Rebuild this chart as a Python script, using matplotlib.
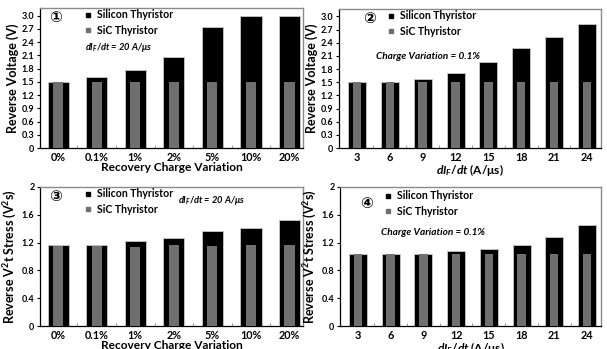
import matplotlib
matplotlib.use("Agg")
import matplotlib.pyplot as plt
from matplotlib.lines import Line2D

plt.rcParams['font.family'] = ['Lato', 'DejaVu Sans']
plt.rcParams['font.weight'] = 'bold'
plt.rcParams['mathtext.fontset'] = 'custom'
plt.rcParams['mathtext.it'] = 'Lato:italic:bold'
plt.rcParams['mathtext.rm'] = 'Lato:bold'
plt.rcParams['mathtext.bf'] = 'Lato:bold'

# ---------------- data ----------------
charge_labels = ['0%', '0.1%', '1%', '2%', '5%', '10%', '20%']
didt_labels = ['3', '6', '9', '12', '15', '18', '21', '24']

p1_si = [1.50, 1.60, 1.76, 2.05, 2.75, 3.00, 3.00]
p1_sic = [1.50, 1.50, 1.50, 1.50, 1.50, 1.50, 1.50]

p2_si = [1.50, 1.51, 1.57, 1.72, 1.97, 2.27, 2.54, 2.82]
p2_sic = [1.50, 1.50, 1.50, 1.50, 1.50, 1.50, 1.50, 1.50]

p3_si = [1.16, 1.17, 1.22, 1.27, 1.36, 1.41, 1.52]
p3_sic = [1.15, 1.15, 1.14, 1.16, 1.15, 1.16, 1.16]

p4_si = [1.04, 1.04, 1.04, 1.08, 1.11, 1.16, 1.28, 1.45]
p4_sic = [1.04, 1.04, 1.04, 1.04, 1.04, 1.04, 1.04, 1.04]

v_ticks = [0, 0.3, 0.6, 0.9, 1.2, 1.5, 1.8, 2.1, 2.4, 2.7, 3.0]
v_ticklabels = ['0', '0.3', '0.6', '0.9', '1.2', '1.5', '1.8', '2.1', '2.4', '2.7', '3.0']
s_ticks = [0, 0.4, 0.8, 1.2, 1.6, 2.0]
s_ticklabels = ['0', '0.4', '0.8', '1.2', '1.6', '2']

W, H = 607, 349
fig = plt.figure(figsize=(W / 100, H / 100), dpi=100)

def mk_ax(l, r, t, b):
    return fig.add_axes([l / W, 1 - b / H, (r - l) / W, (b - t) / H])

SI_COLOR = '#000000'
SIC_COLOR = '#6f6f6f'

def panel(ax, labels, si, sic, ylim, yticks, yticklabels, ylabel, xlabel,
          num, legpos, note, notepos, notesize, xlim):
    x = list(range(len(labels)))
    ax.bar(x, si, width=0.55, color=SI_COLOR, edgecolor='#c8c8c8', linewidth=0.6, zorder=2)
    ax.bar(x, sic, width=0.26, color=SIC_COLOR, edgecolor='none', zorder=3)
    ax.set_xlim(*xlim)
    ax.set_ylim(*ylim)
    ax.set_yticks(yticks)
    ax.set_yticklabels(yticklabels, fontsize=6.5, fontweight='bold')
    ax.set_xticks(x)
    ax.set_xticklabels(labels, fontsize=7.8, fontweight='bold')
    ax.set_xticks([i + 0.5 for i in x[:-1]], minor=True)
    ax.tick_params(axis='x', which='major', length=0, pad=3)
    ax.tick_params(axis='x', which='minor', direction='in', length=2, color='#888888')
    ax.tick_params(axis='y', length=2.5, width=0.8, pad=1.5)
    for s in ['top', 'right']:
        ax.spines[s].set_color('#8a8a8a')
        ax.spines[s].set_linewidth(1.0)
    for s in ['left', 'bottom']:
        ax.spines[s].set_color('black')
        ax.spines[s].set_linewidth(0.9)
    ax.set_ylabel(ylabel, fontsize=9.0, fontweight='bold', labelpad=2)
    ax.set_xlabel(xlabel, fontsize=8.6, fontweight='bold', labelpad=-1.0)
    ax.text(num[0], num[1], num[2], transform=ax.transAxes, fontsize=11,
            family=['DejaVu Sans'], ha='center', va='center')
    handles = [Line2D([], [], marker='s', color=SI_COLOR, linestyle='none', markersize=3.5),
               Line2D([], [], marker='s', color=SIC_COLOR, linestyle='none', markersize=3.5)]
    ax.legend(handles, ['Silicon Thyristor', 'SiC Thyristor'], loc='upper left',
              bbox_to_anchor=legpos, frameon=False, handlelength=0.6,
              handletextpad=0.6, labelspacing=0.4, borderpad=0, borderaxespad=0,
              prop={'weight': 'bold', 'size': 7.6})
    ax.text(notepos[0], notepos[1], note, transform=ax.transAxes, fontsize=notesize,
            fontweight='bold', style='italic', ha='left', va='center')

didt_note = r'$dI_F/dt$ = 20 A/μs'
charge_note = 'Charge Variation = 0.1%'
didt_xlabel = r'$dI_F/dt$ (A/μs)'

ax1 = mk_ax(40, 303, 8, 148)
panel(ax1, charge_labels, p1_si, p1_sic, (0, 3.17), v_ticks, v_ticklabels,
      'Reverse Voltage (V)', 'Recovery Charge Variation',
      (0.06, 0.935, '①'), (0.17, 0.99), didt_note, (0.17, 0.72), 6.7, (-0.47, 6.35))

ax2 = mk_ax(339, 601, 9, 148)
panel(ax2, didt_labels, p2_si, p2_sic, (0, 3.17), v_ticks, v_ticklabels,
      'Reverse Voltage (V)', didt_xlabel,
      (0.118, 0.935, '②'), (0.185, 0.99), charge_note, (0.14, 0.655), 7.2, (-0.55, 7.43))

ax3 = mk_ax(40, 303, 187, 326)
panel(ax3, charge_labels, p3_si, p3_sic, (0, 2.0), s_ticks, s_ticklabels,
      r'Reverse V$^2$t Stress (V$^2$s)', 'Recovery Charge Variation',
      (0.06, 0.93, '③'), (0.17, 0.99), didt_note, (0.525, 0.906), 6.7, (-0.47, 6.35))

ax4 = mk_ax(340, 601, 187, 326)
panel(ax4, didt_labels, p4_si, p4_sic, (0, 2.0), s_ticks, s_ticklabels,
      r'Reverse V$^2$t Stress (V$^2$s)', didt_xlabel,
      (0.10, 0.88, '④'), (0.17, 0.975), charge_note, (0.157, 0.676), 7.2, (-0.55, 7.43))

fig.savefig('out.png', dpi=100)
